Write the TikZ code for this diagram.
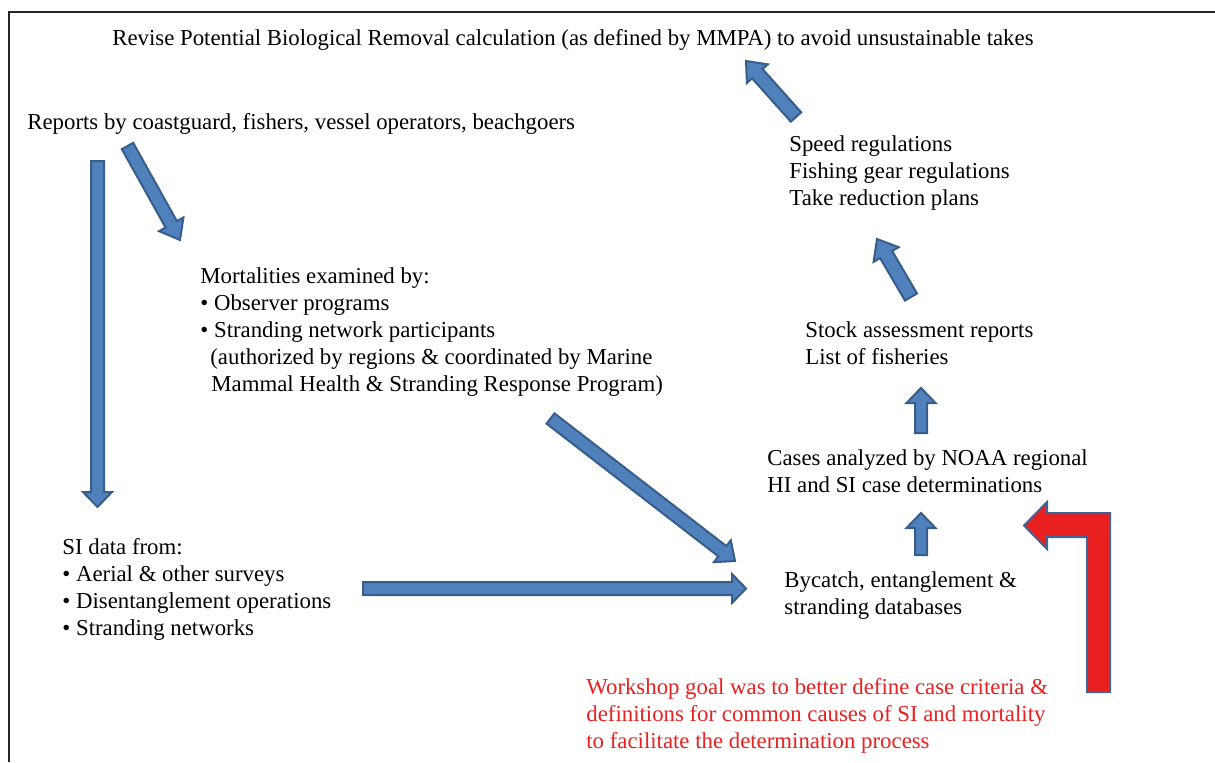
\documentclass[tikz,border=0pt]{standalone}
\usepackage{fontspec}
\setmainfont{Liberation Serif}
\usetikzlibrary{calc}
\definecolor{bafill}{RGB}{79,129,189}
\definecolor{badraw}{RGB}{56,93,138}
\definecolor{goalred}{RGB}{232,32,32}
\definecolor{redborder}{RGB}{65,100,150}
\tikzset{
  txt/.style={anchor=base west, inner sep=0pt, font=\fontsize{11.4}{13.5}\selectfont},
  blockarr/.style={fill=bafill, draw=badraw, line width=1pt, line join=miter},
}
\newcommand{\lns}[1]{\begin{tabular}[t]{@{}l@{}}#1\end{tabular}}
% #1 start coord, #2 tip coord, #3 half shaft, #4 half head, #5 head length
\newcommand{\barrow}[5]{%
  \coordinate (ba-h) at ($(#2)!#5!(#1)$);
  \filldraw[blockarr] ($(#1)!#3!90:(#2)$) -- ($(ba-h)!#3!90:(#2)$) -- ($(ba-h)!#4!90:(#2)$) -- (#2)
    -- ($(ba-h)!#4!-90:(#2)$) -- ($(ba-h)!#3!-90:(#2)$) -- ($(#1)!#3!-90:(#2)$) -- cycle;
}
\begin{document}
\begin{tikzpicture}[x=0.5pt,y=-0.5pt]
\useasboundingbox (0,0) rectangle (1215,762);
\draw[line width=1pt, black!85] (9,762) -- (9,12) -- (1215,12);

\node[txt] (title) at (112,45) {Revise Potential Biological Removal calculation (as defined by MMPA) to avoid unsustainable takes};
\node[txt] (reports) at (27,129) {Reports by coastguard, fishers, vessel operators, beachgoers};
\node[txt] (regs) at (789,151) {\lns{Speed regulations\\Fishing gear regulations\\Take reduction plans}};
\node[txt] (mort) at (200,283) {\lns{Mortalities examined by:\\\textbullet\ Observer programs\\\textbullet\ Stranding network participants\\\hspace*{5pt}(authorized by regions \& coordinated by Marine\\\hspace*{5.5pt}Mammal Health \& Stranding Response Program)}};
\node[txt] (stock) at (805,337) {\lns{Stock assessment reports\\List of fisheries}};
\node[txt] (cases) at (767,465) {\lns{Cases analyzed by NOAA regional\\HI and SI case determinations}};
\node[txt] (sidata) at (62,554) {\lns{SI data from:\\\textbullet\ Aerial \& other surveys\\\textbullet\ Disentanglement operations\\\textbullet\ Stranding networks}};
\node[txt] (bycatch) at (784,587) {\lns{Bycatch, entanglement \&\\stranding databases}};
\node[txt, text=goalred] (goal) at (586,694) {\lns{Workshop goal was to better define case criteria \&\\definitions for common causes of SI and mortality\\to facilitate the determination process}};

\coordinate (a1s) at (97.5,161);  \coordinate (a1e) at (97.5,507);
\coordinate (a2s) at (127.5,146); \coordinate (a2e) at (180,240);
\coordinate (a3s) at (550.5,418.5); \coordinate (a3e) at (735,561);
\coordinate (a4s) at (363,588.5); \coordinate (a4e) at (746,588.5);
\coordinate (a5s) at (921,433);   \coordinate (a5e) at (921,388);
\coordinate (a6s) at (921,555);   \coordinate (a6e) at (921,513);
\coordinate (a7s) at (911,297);   \coordinate (a7e) at (877,239);
\coordinate (a8s) at (796,117);   \coordinate (a8e) at (746,61);

\barrow{a1s}{a1e}{3.25pt}{7.25pt}{7.5pt}
\barrow{a2s}{a2e}{3.25pt}{7pt}{9pt}
\barrow{a3s}{a3e}{3.25pt}{6.9pt}{8pt}
\barrow{a4s}{a4e}{3.25pt}{7.25pt}{7pt}
\barrow{a5s}{a5e}{3pt}{7.25pt}{7.5pt}
\barrow{a6s}{a6e}{3pt}{7.25pt}{7.5pt}
\barrow{a7s}{a7e}{3.5pt}{7.25pt}{9pt}
\barrow{a8s}{a8e}{3.5pt}{7pt}{8.5pt}

\filldraw[fill=goalred, draw=redborder, line width=1pt, line join=miter]
  (1110,692) -- (1110,513) -- (1047,513) -- (1047,502) -- (1024,525.5) -- (1047,549) -- (1047,537) -- (1087,537) -- (1087,692) -- cycle;
\end{tikzpicture}
\end{document}
